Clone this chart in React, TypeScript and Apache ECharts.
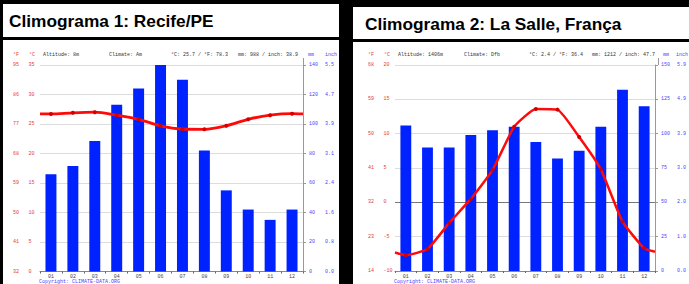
import React, { useEffect, useRef } from "react";
import * as echarts from "echarts";

const months = ["01", "02", "03", "04", "05", "06", "07", "08", "09", "10", "11", "12"];

// Climogram 1: Recife/PE
const recifePrecipMm = [66, 71.5, 88.5, 113, 124, 140, 130, 82, 55, 42, 35, 42];
const recifeTempC = [26.7, 26.9, 27.0, 26.5, 25.8, 24.7, 24.15, 24.1, 24.7, 25.8, 26.5, 26.75];
const recifeTempEdgesC = [26.7, 26.7];
const recifeFahrenheitTicks = ["32", "41", "50", "59", "68", "77", "86", "95"];
const recifeInchTicks = ["0.0", "0.8", "1.6", "2.4", "3.1", "3.9", "4.7", "5.5"];

// Climogram 2: La Salle, França
const lasallePrecipMm = [106, 90, 90, 99, 102.5, 105, 94, 82, 87.5, 105, 132, 120];
const lasalleTempC = [-7.7, -6.8, -3.0, 0.5, 4.7, 11.0, 13.6, 13.5, 9.5, 4.8, -2.8, -6.7];
const lasalleTempEdgesC = [-7.3, -7.2];
const lasalleFahrenheitTicks = ["14", "23", "32", "41", "50", "59", "68"];
const lasalleInchTicks = ["0.0", "1.0", "2.0", "3.0", "3.9", "4.9", "5.9"];

const MONO = "Liberation Mono";
const RED_TXT = "#e23a3a";
const BLUE_TXT = "#4646ff";
const BAR = "#0022ff";
const LINE = "#ff0a0a";
const SMALL = 5;

function lineData(temps: number[], edges: number[]) {
  const d: any[] = [{ value: [0, edges[0]], symbol: "none" }];
  temps.forEach((t, i) => d.push([i + 0.5, t]));
  d.push({ value: [12, edges[1]], symbol: "none" });
  return d;
}

function txt(x: number, y: number, text: string, fill: string, align = "left", size = SMALL, font = MONO, weight = "normal") {
  return {
    type: "text",
    x,
    y,
    z: 50,
    style: {
      text,
      fill,
      fontSize: size,
      fontFamily: font,
      fontWeight: weight,
      textAlign: align,
      textVerticalAlign: "middle",
    },
  };
}

export default function App() {
  const ref = useRef<HTMLDivElement>(null);

  useEffect(() => {
    if (!ref.current) return;
    const chart = echarts.init(ref.current, null, { renderer: "svg" });

    const catX = (gridIndex: number) => ({
      type: "category",
      gridIndex,
      data: months,
      boundaryGap: true,
      axisLine: { show: true, onZero: false, lineStyle: { color: "#888", width: 1 } },
      axisTick: { show: true, length: 2, lineStyle: { color: "#666" } },
      axisLabel: { fontSize: SMALL, fontFamily: MONO, color: "#444", margin: 3 },
      splitLine: { show: false },
    });
    const valX = (gridIndex: number) => ({
      type: "value",
      gridIndex,
      min: 0,
      max: 12,
      show: false,
    });
    const tempY = (gridIndex: number, min: number, max: number) => ({
      type: "value",
      gridIndex,
      position: "left",
      min,
      max,
      interval: 5,
      axisLine: { show: false },
      axisTick: { show: false },
      axisLabel: { fontSize: SMALL, fontFamily: MONO, color: RED_TXT, margin: 11.5, align: "left" },
      splitLine: { show: true, lineStyle: { color: "#dcdcdc", width: 1 } },
    });
    const fahrY = (gridIndex: number, min: number, max: number, ticks: string[]) => ({
      type: "value",
      gridIndex,
      position: "left",
      min,
      max,
      interval: 5,
      axisLine: { show: false },
      axisTick: { show: false },
      axisLabel: {
        fontSize: SMALL,
        fontFamily: MONO,
        color: RED_TXT,
        margin: 27,
        align: "left",
        formatter: (v: number) => ticks[Math.round((v - min) / 5)] ?? "",
      },
      splitLine: { show: false },
    });
    const mmY = (gridIndex: number, max: number, interval: number) => ({
      type: "value",
      gridIndex,
      position: "right",
      min: 0,
      max,
      interval,
      axisLine: { show: true, lineStyle: { color: "#999", width: 1 } },
      axisTick: { show: true, length: 3, lineStyle: { color: "#999" } },
      axisLabel: { fontSize: SMALL, fontFamily: MONO, color: BLUE_TXT, margin: 6, align: "left" },
      splitLine: { show: false },
    });
    const inchY = (gridIndex: number, max: number, interval: number, ticks: string[]) => ({
      type: "value",
      gridIndex,
      position: "right",
      min: 0,
      max,
      interval,
      axisLine: { show: false },
      axisTick: { show: false },
      axisLabel: {
        fontSize: SMALL,
        fontFamily: MONO,
        color: BLUE_TXT,
        margin: 22,
        align: "left",
        formatter: (v: number) => ticks[Math.round(v / interval)] ?? "",
      },
      splitLine: { show: false },
    });

    const option: any = {
      animation: false,
      backgroundColor: "#000",
      grid: [
        { left: 40, top: 65, width: 263, height: 206.5 },
        { left: 395, top: 65, width: 263, height: 206 },
      ],
      xAxis: [catX(0), valX(0), catX(1), valX(1)],
      yAxis: [
        tempY(0, 0, 35),
        fahrY(0, 0, 35, recifeFahrenheitTicks),
        mmY(0, 140, 20),
        inchY(0, 140, 20, recifeInchTicks),
        tempY(1, -10, 20),
        fahrY(1, -10, 20, lasalleFahrenheitTicks),
        mmY(1, 150, 25),
        inchY(1, 150, 25, lasalleInchTicks),
      ],
      graphic: [
        { type: "rect", z: -100, shape: { x: 3, y: 4, width: 336, height: 33 }, style: { fill: "#fff" } },
        { type: "rect", z: -100, shape: { x: 3, y: 40, width: 336, height: 250 }, style: { fill: "#fff" } },
        { type: "rect", z: -100, shape: { x: 353, y: 7, width: 340, height: 32 }, style: { fill: "#fff" } },
        { type: "rect", z: -100, shape: { x: 353, y: 42, width: 340, height: 250 }, style: { fill: "#fff" } },
        txt(9, 21, "Climograma 1: Recife/PE", "#000", "left", 17.3, "Liberation Sans", "bold"),
        txt(365, 24, "Climograma 2: La Salle, França", "#000", "left", 17.3, "Liberation Sans", "bold"),
        // left header
        txt(13, 55, "°F", RED_TXT),
        txt(29, 55, "°C", RED_TXT),
        txt(43, 55, "Altitude: 8m", "#333"),
        txt(109, 55, "Climate: Am", "#333"),
        txt(228, 55, "°C: 25.7 / °F: 78.3", "#333", "right"),
        txt(298, 55, "mm: 988 / inch: 38.9", "#333", "right"),
        txt(308, 55, "mm", BLUE_TXT),
        txt(325, 55, "inch", BLUE_TXT),
        txt(39, 282, "Copyright: CLIMATE-DATA.ORG", BLUE_TXT),
        { type: "line", z: 50, shape: { x1: 303.5, y1: 58, x2: 303.5, y2: 65 }, style: { stroke: "#999", lineWidth: 1 } },
        // right header
        txt(368, 55, "°F", RED_TXT),
        txt(384, 55, "°C", RED_TXT),
        txt(398, 55, "Altitude: 1406m", "#333"),
        txt(464, 55, "Climate: Dfb", "#333"),
        txt(583, 55, "°C: 2.4 / °F: 36.4", "#333", "right"),
        txt(655, 55, "mm: 1212 / inch: 47.7", "#333", "right"),
        txt(663, 55, "mm", BLUE_TXT),
        txt(676, 55, "inch", BLUE_TXT),
        txt(394, 282, "Copyright: CLIMATE-DATA.ORG", BLUE_TXT),
        { type: "line", z: 50, shape: { x1: 658.5, y1: 58, x2: 658.5, y2: 65 }, style: { stroke: "#999", lineWidth: 1 } },
      ],
      series: [
        {
          type: "bar",
          name: "Recife precipitação",
          xAxisIndex: 0,
          yAxisIndex: 2,
          data: recifePrecipMm,
          barWidth: "50%",
          itemStyle: { color: BAR },
          z: 3,
        },
        {
          type: "line",
          name: "Recife temperatura",
          xAxisIndex: 1,
          yAxisIndex: 0,
          data: lineData(recifeTempC, recifeTempEdgesC),
          smooth: 0.3,
          symbol: "circle",
          symbolSize: 4,
          lineStyle: { color: LINE, width: 2.8 },
          itemStyle: { color: "#d00000" },
          z: 5,
        },
        {
          type: "bar",
          name: "La Salle precipitação",
          xAxisIndex: 2,
          yAxisIndex: 6,
          data: lasallePrecipMm,
          barWidth: "50%",
          itemStyle: { color: BAR },
          z: 3,
        },
        {
          type: "line",
          name: "La Salle temperatura",
          xAxisIndex: 3,
          yAxisIndex: 4,
          data: lineData(lasalleTempC, lasalleTempEdgesC),
          smooth: 0.15,
          symbol: "circle",
          symbolSize: 4,
          lineStyle: { color: LINE, width: 2.5 },
          itemStyle: { color: "#d00000" },
          markLine: {
            silent: true,
            symbol: "none",
            label: { show: false },
            lineStyle: { color: "#777", width: 1, type: "solid" },
            data: [{ yAxis: 0 }],
            z: 2,
          },
          z: 5,
        },
      ],
    };

    chart.setOption(option);
    return () => chart.dispose();
  }, []);

  return (
    <div
      ref={ref}
      style={{ position: "fixed", left: 0, top: 0, width: 689, height: 284, background: "#000" }}
    />
  );
}
